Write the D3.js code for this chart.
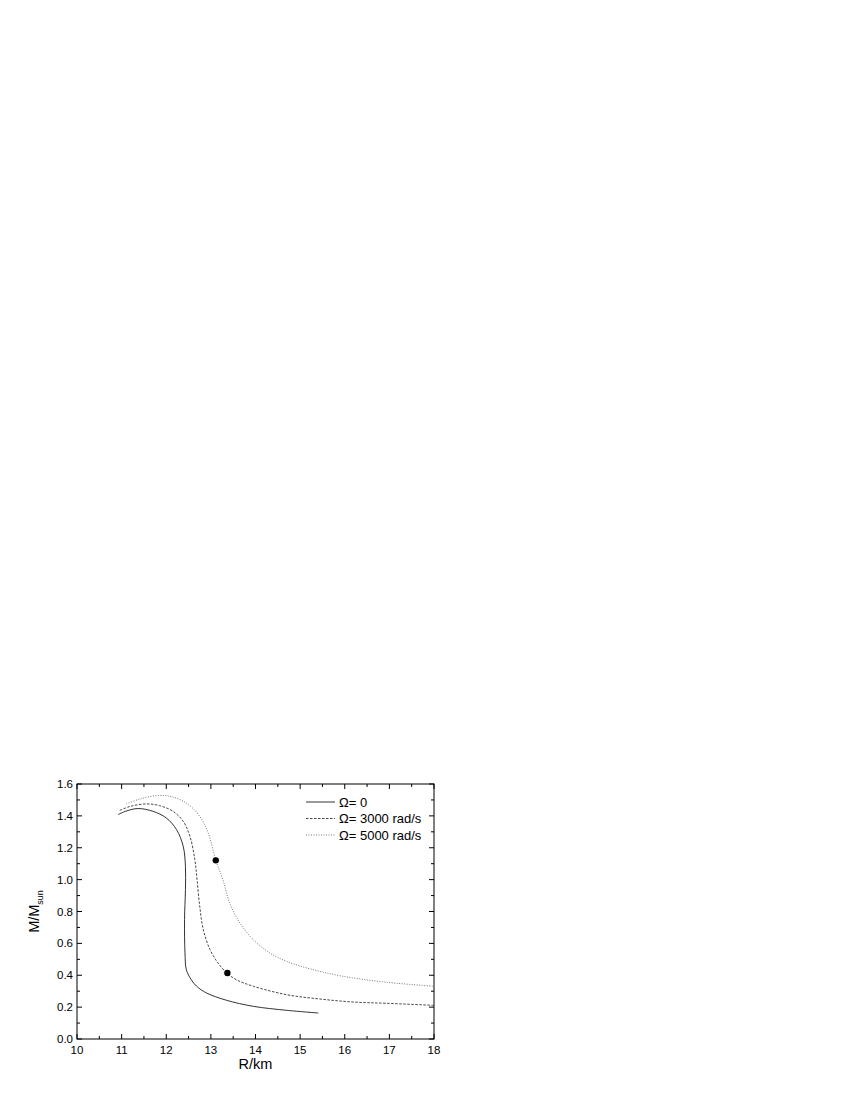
<!DOCTYPE html>
<html><head><meta charset="utf-8">
<script src="https://cdn.jsdelivr.net/npm/d3@7"></script>
<style>body{margin:0;background:#fff}svg{display:block}text{font-family:Arial,"Liberation Sans",sans-serif;fill:#000}</style>
</head><body>
<script>
const xTicks = [10,11,12,13,14,15,16,17,18];
const yTicks = [0.0,0.2,0.4,0.6,0.8,1.0,1.2,1.4,1.6];
const seriesNames = ["Ω= 0","Ω= 3000 rad/s","Ω= 5000 rad/s"];
const omega0 = [[10.92,1.408],[11.1,1.43],[11.37,1.446],[11.7,1.429],[12.0,1.387],[12.23,1.314],[12.38,1.209],[12.43,1.084],[12.43,0.937],[12.41,0.749],[12.42,0.54],[12.45,0.435],[12.56,0.372],[12.68,0.331],[12.9,0.289],[13.35,0.243],[13.95,0.205],[14.7,0.18],[15.41,0.163]];
const omega3000 = [[10.96,1.435],[11.2,1.46],[11.56,1.475],[11.85,1.464],[12.15,1.429],[12.38,1.366],[12.53,1.272],[12.64,1.126],[12.69,1.0],[12.75,0.833],[12.83,0.686],[12.98,0.561],[13.16,0.477],[13.36,0.414],[13.57,0.372],[13.95,0.331],[14.7,0.278],[15.44,0.251],[16.19,0.232],[16.94,0.224],[18.0,0.211]];
const omega5000 = [[11.11,1.475],[11.41,1.506],[11.78,1.527],[12.08,1.523],[12.45,1.481],[12.75,1.397],[12.94,1.293],[13.11,1.121],[13.27,1.0],[13.42,0.854],[13.65,0.728],[13.95,0.623],[14.32,0.54],[14.7,0.487],[15.29,0.435],[15.97,0.393],[16.94,0.356],[18.0,0.331]];
const markedPoints = [[13.11,1.121],[13.37,0.414]];

const W=850,H=1100;
const L=77,R=434,T=784,B=1039;
const svg=d3.select("body").append("svg").attr("width",W).attr("height",H);
const x=d3.scaleLinear().domain([10,18]).range([L,R]);
const y=d3.scaleLinear().domain([0,1.6]).range([B,T]);

const g=svg.append("g");
g.append("rect").attr("x",L).attr("y",T).attr("width",R-L).attr("height",B-T).attr("fill","none").attr("stroke","#000").attr("stroke-width",1);

const xMinor=d3.range(10,18.01,0.5);
const yMinor=d3.range(0,1.601,0.1);
function tk(isMajor){return isMajor?5:3;}
xMinor.forEach(v=>{
  const maj=Math.abs(v-Math.round(v))<1e-6; const l=tk(maj);
  g.append("line").attr("x1",x(v)).attr("x2",x(v)).attr("y1",B).attr("y2",B-l).attr("stroke","#000");
  g.append("line").attr("x1",x(v)).attr("x2",x(v)).attr("y1",T).attr("y2",T+l).attr("stroke","#000");
});
yMinor.forEach(v=>{
  const maj=Math.abs(v*5-Math.round(v*5))<1e-6; const l=tk(maj);
  g.append("line").attr("y1",y(v)).attr("y2",y(v)).attr("x1",L).attr("x2",L+l).attr("stroke","#000");
  g.append("line").attr("y1",y(v)).attr("y2",y(v)).attr("x1",R).attr("x2",R-l).attr("stroke","#000");
});
g.selectAll(".xl").data(xTicks).enter().append("text").attr("x",d=>x(d)).attr("y",B+15).attr("text-anchor","middle").attr("font-size",11.5).text(d=>d);
g.selectAll(".yl").data(yTicks).enter().append("text").attr("x",L-4).attr("y",d=>y(d)+4).attr("text-anchor","end").attr("font-size",11.5).text(d=>d.toFixed(1));
svg.append("text").attr("x",(L+R)/2).attr("y",B+30).attr("text-anchor","middle").attr("font-size",14.5).text("R/km");
const yt=svg.append("text").attr("transform",`translate(39,${(T+B)/2}) rotate(-90)`).attr("text-anchor","middle").attr("font-size",14.5);
yt.append("tspan").text("M/M");
yt.append("tspan").attr("font-size",9).attr("dy",4).text("sun");

const line=d3.line().x(d=>x(d[0])).y(d=>y(d[1])).curve(d3.curveCatmullRom.alpha(0.5));
const styles=[{c:"#333",w:1,da:null},{c:"#333",w:0.9,da:"2.5,1.5"},{c:"#666",w:0.9,da:"1,1.5"}];
[omega0,omega3000,omega5000].forEach((s,i)=>{
  g.append("path").datum(s).attr("d",line).attr("fill","none").attr("stroke",styles[i].c).attr("stroke-width",styles[i].w).attr("stroke-dasharray",styles[i].da);
});
g.selectAll(".dot").data(markedPoints).enter().append("circle").attr("cx",d=>x(d[0])).attr("cy",d=>y(d[1])).attr("r",3.2).attr("fill","#000");

const ly=[802,818.5,835];
seriesNames.forEach((n,i)=>{
  g.append("line").attr("x1",306).attr("x2",335).attr("y1",ly[i]).attr("y2",ly[i]).attr("stroke",styles[i].c).attr("stroke-width",styles[i].w).attr("stroke-dasharray",styles[i].da);
  g.append("text").attr("x",339).attr("y",ly[i]+4.5).attr("font-size",13).text(n);
});
</script>
</body></html>
